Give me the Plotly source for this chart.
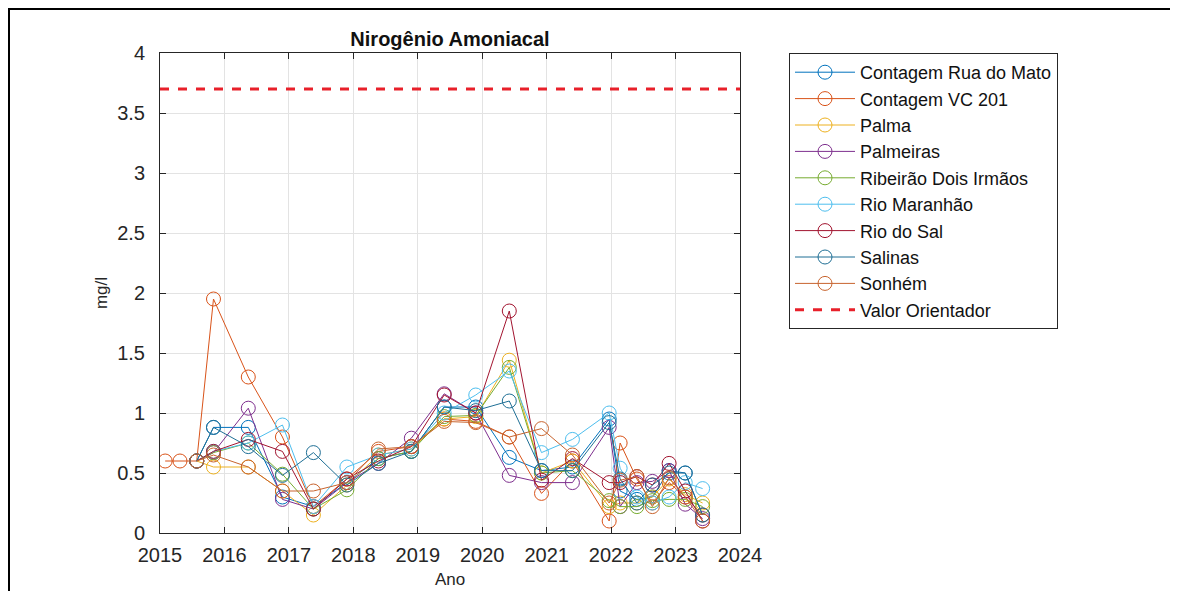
import plotly.graph_objects as go

# sampling dates (decimal years)
anos = [2015.08, 2015.31, 2015.57, 2015.83, 2016.37, 2016.90, 2017.38, 2017.90,
        2018.39, 2018.90, 2019.41, 2019.90, 2020.42, 2020.92, 2021.40, 2021.97,
        2022.14, 2022.40, 2022.64, 2022.90, 2023.15, 2023.42]

estacoes = ["Contagem Rua do Mato", "Contagem VC 201", "Palma", "Palmeiras",
            "Ribeirão Dois Irmãos", "Rio Maranhão", "Rio do Sal", "Salinas", "Sonhém"]

# values from 2015.57 on (Contagem VC 201 starts earlier)
rua_do_mato = [0.60, 0.88, 0.88, 0.30, 0.22, 0.42, 0.62, 0.68, 1.05, 1.05, 0.63, 0.52, 0.55, 0.95, 0.35, 0.28, 0.30, 0.52, 0.50, 0.15]
vc_201 = [0.60, 0.60, 0.60, 1.95, 1.30, 0.80, 0.22, 0.45, 0.68, 0.72, 0.95, 0.93, 0.80, 0.33, 0.60, 0.10, 0.75, 0.45, 0.25, 0.42, 0.30, 0.15]
palma = [0.60, 0.55, 0.55, 0.35, 0.15, 0.40, 0.65, 0.70, 0.95, 0.97, 1.44, 0.50, 0.60, 0.22, 0.25, 0.25, 0.30, 0.45, 0.32, 0.25]
palmeiras = [0.60, 0.67, 1.04, 0.28, 0.20, 0.42, 0.58, 0.79, 1.16, 1.00, 0.48, 0.42, 0.42, 0.88, 0.22, 0.42, 0.43, 0.52, 0.24, 0.12]
dois_irmaos = [0.60, 0.67, 0.75, 0.49, 0.20, 0.36, 0.62, 0.68, 0.97, 0.98, 1.38, 0.50, 0.52, 0.27, 0.22, 0.22, 0.27, 0.28, 0.28, 0.22]
maranhao = [0.60, 0.68, 0.75, 0.90, 0.22, 0.55, 0.65, 0.70, 1.00, 1.15, 1.35, 0.67, 0.78, 1.00, 0.54, 0.30, 0.25, 0.30, 0.42, 0.37]
rio_do_sal = [0.60, 0.68, 0.78, 0.68, 0.20, 0.45, 0.60, 0.72, 1.15, 1.00, 1.85, 0.44, 0.62, 0.42, 0.42, 0.47, 0.40, 0.58, 0.35, 0.10]
salinas = [0.60, 0.88, 0.72, 0.48, 0.67, 0.40, 0.58, 0.68, 1.05, 1.02, 1.10, 0.52, 0.52, 0.92, 0.45, 0.25, 0.40, 0.50, 0.50, 0.15]
sonhem = [0.60, 0.65, 0.55, 0.35, 0.35, 0.42, 0.70, 0.72, 0.93, 0.92, 0.80, 0.87, 0.65, 0.25, 0.44, 0.47, 0.22, 0.46, 0.30, 0.10]

valor_orientador = 3.7

cores = ['#0072BD', '#D95319', '#EDB120', '#7E2F8E', '#77AC30', '#4DBEEE', '#A2142F', '#1F6F95', '#C8642E']
series = [rua_do_mato, vc_201, palma, palmeiras, dois_irmaos, maranhao, rio_do_sal, salinas, sonhem]

fig = go.Figure()
for nome, vals, cor in zip(estacoes, series, cores):
    xs = anos[-len(vals):]
    fig.add_trace(go.Scatter(
        x=xs, y=vals, name=nome, mode='lines+markers',
        line=dict(color=cor, width=1),
        marker=dict(symbol='circle-open', size=14, color=cor, line=dict(width=1))))

fig.add_trace(go.Scatter(
    x=[2015, 2024], y=[valor_orientador, valor_orientador], name='Valor Orientador',
    mode='lines', line=dict(color='#E8202A', width=3, dash='dash')))

eixo = dict(showline=True, linecolor='#262626', linewidth=1, mirror='ticks',
            ticks='inside', ticklen=6, tickcolor='#262626', automargin=False,
            showgrid=True, gridcolor='#E3E3E3', gridwidth=1, zeroline=False,
            tickfont=dict(size=20, color='#262626'))

# page has an 8px body margin, so the figure is 8px smaller than the window
W, H = 1170, 583
L, R, T, B = 152, 732, 45, 525   # plot area in figure pixels
pw, ph = R - L, B - T

fig.update_layout(
    width=W, height=H,
    margin=dict(l=L, r=W - R, t=T, b=H - B),
    paper_bgcolor='white', plot_bgcolor='white',
    font=dict(family='Liberation Sans, Arial', color='#262626'),
    title=dict(text='<b>Nirogênio Amoniacal</b>', x=(L + R) / 2 / W, xanchor='center',
               y=1 - 31 / H, yanchor='middle', font=dict(size=20, color='#111')),
    xaxis=dict(range=[2015, 2024], dtick=1, tickformat='d', ticklabelstandoff=4,
               title=dict(text='Ano', font=dict(size=17), standoff=8), **eixo),
    yaxis=dict(range=[0, 4], dtick=0.5, ticklabelstandoff=10,
               title=dict(text='mg/l', font=dict(size=17), standoff=5), **eixo),
    legend=dict(x=(781 - L) / pw, xanchor='left', y=1, yanchor='top',
                bgcolor='white', bordercolor='#262626', borderwidth=1,
                font=dict(size=18, color='#111'), itemwidth=60, tracegroupgap=0),
    shapes=[dict(type='rect', xref='paper', yref='paper',
                 x0=(1 - L) / pw, x1=(1164 - L) / pw,
                 y0=(B - 620) / ph, y1=(B - 1) / ph,
                 line=dict(color='black', width=2))],
)

fig.write_html("out.html")
